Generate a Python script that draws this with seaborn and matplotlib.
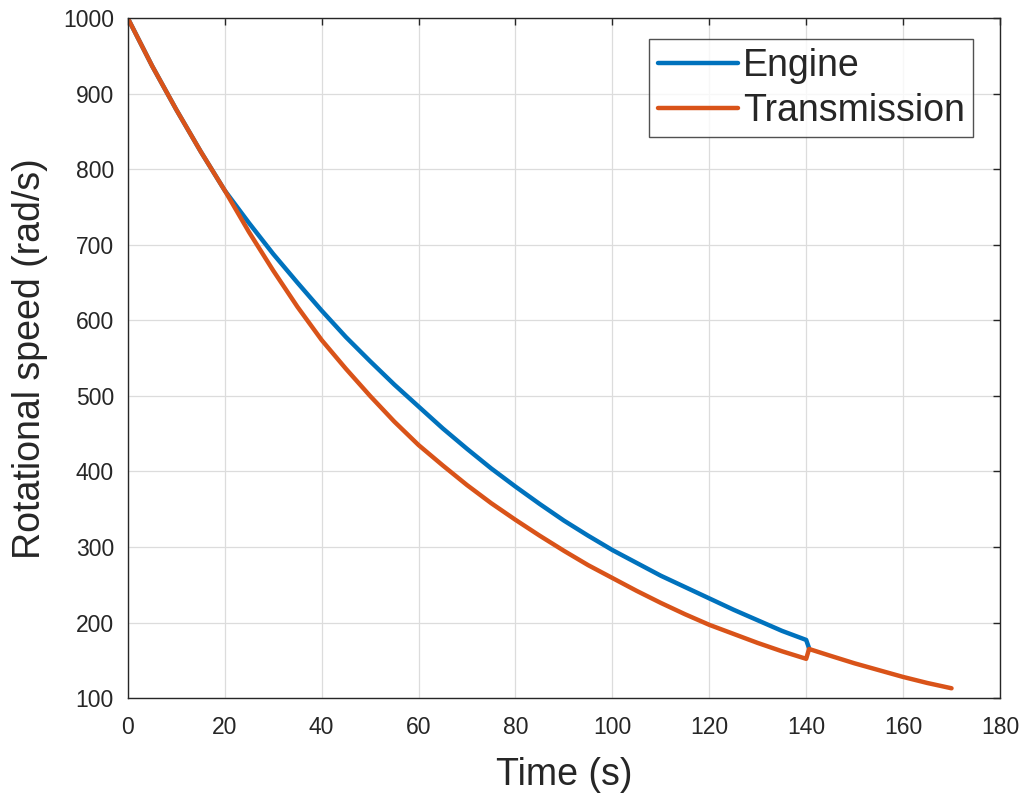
import numpy as np
import pandas as pd
import matplotlib
matplotlib.use("Agg")
import matplotlib.pyplot as plt
import seaborn as sns

# Data (rad/s vs s)
engine_t = [0, 5, 10, 15, 20, 25, 30, 35, 40, 45, 50, 55, 60, 65, 70, 75, 80,
            85, 90, 95, 100, 105, 110, 115, 120, 125, 130, 135, 140, 140.6]
engine_w = [1000, 937, 879, 824, 772, 729, 688, 650, 613, 578, 546, 515, 486,
            457, 430, 404, 380, 357, 335, 315, 296, 279, 262, 247, 232, 217,
            203, 189, 177, 166]

trans_t = [0, 5, 10, 15, 20, 25, 30, 35, 40, 45, 50, 55, 60, 65, 70, 75, 80,
           85, 90, 95, 100, 105, 110, 115, 120, 125, 130, 135, 140, 140.6,
           145, 150, 155, 160, 165, 170]
trans_w = [1000, 937, 879, 824, 772, 717, 666, 618, 574, 536, 500, 466, 435,
           408, 382, 358, 336, 315, 295, 276, 259, 242, 226, 211, 197, 185,
           173, 162, 152, 165, 156, 146, 137, 128, 120, 113]

x_ticks = list(range(0, 181, 20))
y_ticks = list(range(100, 1001, 100))

sns.set_theme(style="white")
plt.rcParams['font.family'] = ['Liberation Sans', 'DejaVu Sans']

fig = plt.figure(figsize=(10.23, 7.96), dpi=100)
ax = fig.add_axes([0.125, 0.123, 0.8525, 0.854])

blue = "#0072BD"
orange = "#D95319"
txt = "#262626"

sns.lineplot(x=engine_t, y=engine_w, ax=ax, color=blue, linewidth=3.2,
             label="Engine", sort=False, estimator=None)
sns.lineplot(x=trans_t, y=trans_w, ax=ax, color=orange, linewidth=3.2,
             label="Transmission", sort=False, estimator=None)

ax.set_xlim(0, 180)
ax.set_ylim(100, 1000)
ax.set_xticks(x_ticks)
ax.set_yticks(y_ticks)
ax.grid(True, color="#dcdcdc", linewidth=0.9)
ax.set_axisbelow(True)
for s in ax.spines.values():
    s.set_color(txt)
    s.set_linewidth(1.0)
ax.tick_params(direction="in", length=5, width=1, colors=txt,
               top=True, right=True, labelsize=16.5)
ax.tick_params(axis="y", pad=10)
ax.tick_params(axis="x", pad=13)
for lab in ax.get_xticklabels() + ax.get_yticklabels():
    lab.set_color(txt)

ax.set_xlabel("Time (s)", fontsize=27, color=txt, labelpad=13)
ax.set_ylabel("Rotational speed (rad/s)", fontsize=27, color=txt, labelpad=11)

leg = ax.legend(loc="upper right", bbox_to_anchor=(0.969, 0.969),
                fontsize=27, frameon=True, fancybox=False,
                edgecolor=txt, handlelength=2.15, handletextpad=0.12,
                borderpad=0.22, labelspacing=0.25, borderaxespad=0.0)
leg.get_frame().set_linewidth(1.0)
for t in leg.get_texts():
    t.set_color(txt)

fig.savefig("out.png", dpi=100)
